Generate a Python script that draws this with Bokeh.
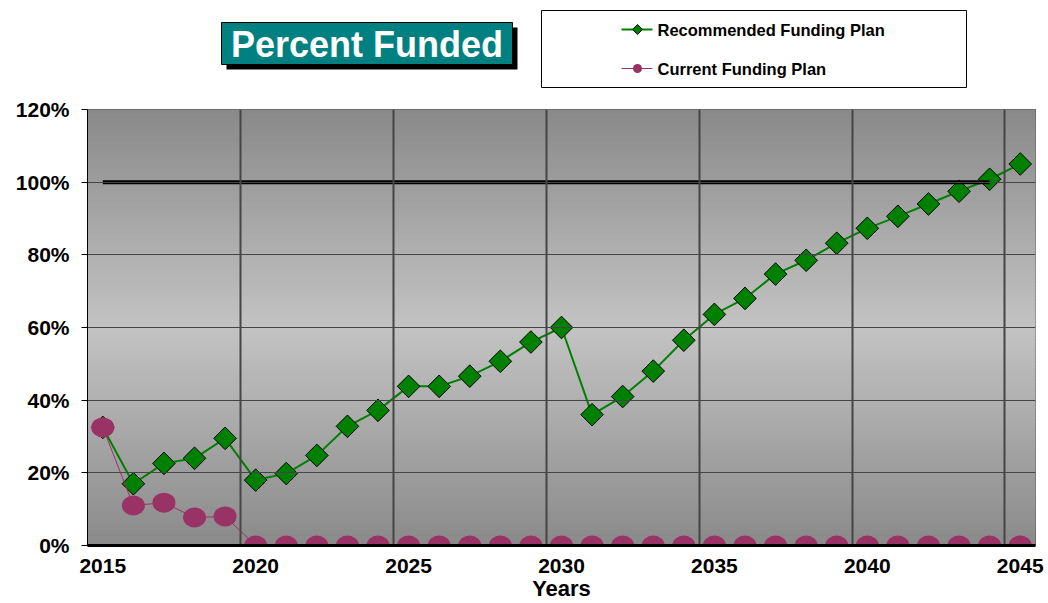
import numpy as np
from bokeh.plotting import figure
from bokeh.layouts import column
from bokeh.models import Range1d, FixedTicker, Grid, PrintfTickFormatter
from bokeh.core.properties import value
from bokeh.embed import file_html
from bokeh.resources import INLINE

# ---- data ----
years = list(range(2015, 2046))
recommended = [32.5, 17.0, 22.6, 24.0, 29.5, 18.0, 19.8, 24.8, 32.8, 37.2,
               43.8, 43.8, 46.6, 50.7, 56.0, 60.0, 36.0, 41.0, 48.0, 56.5,
               63.6, 68.0, 74.7, 78.5, 83.2, 87.3, 90.6, 94.0, 97.5, 100.8, 105.0]
current = [32.5, 11.0, 11.8, 7.7, 8.0, 0, 0, 0, 0, 0,
           0, 0, 0, 0, 0, 0, 0, 0, 0, 0,
           0, 0, 0, 0, 0, 0, 0, 0, 0, 0, 0]
target_years = list(range(2015, 2045))
target = [100, 100, 100, 100, 100, 100, 100, 100, 100, 100,
          100, 100, 100, 100, 100, 100, 100, 100, 100, 100,
          100, 100, 100, 100, 100, 100, 100, 100, 100, 100]
x_ticks = [2015, 2020, 2025, 2030, 2035, 2040, 2045]
y_ticks = [0, 20, 40, 60, 80, 100, 120]
title_text = "Percent Funded"
legend_labels = ["Recommended Funding Plan", "Current Funding Plan"]
x_label = "Years"

GREEN = "#008000"
MAGENTA = "#993366"
FONT = "Liberation Sans"

# ---- header (title box + legend); frame is aligned with the chart frame (87..1035 px) ----
h = figure(width=1048, height=95, x_range=Range1d(87, 1035), y_range=Range1d(95, 0),
           output_backend="svg", toolbar_location=None, min_border=0)
h.axis.visible = False
h.grid.visible = False
h.outline_line_color = None
h.background_fill_color = "white"
h.border_fill_color = "white"

h.quad(left=[226], right=[517], top=[27], bottom=[69], fill_color="black", line_color=None)
h.quad(left=[221], right=[512], top=[22], bottom=[64], fill_color="#008080",
       line_color="black", line_width=1)
h.text(x=[366.5], y=[44], text=[title_text], text_color="white",
       text_font=value(FONT), text_font_style="bold", text_font_size="36px",
       text_align="center", text_baseline="middle")

h.quad(left=[541], right=[966], top=[10], bottom=[87], fill_color="white",
       line_color="black", line_width=1)
leg_y = [29, 68]
h.segment(x0=[621], x1=[652], y0=[leg_y[0]], y1=[leg_y[0]], line_color=GREEN, line_width=2)
h.scatter(x=[637], y=[leg_y[0]], marker="square", angle=np.pi / 4, size=7,
          fill_color=GREEN, line_color="black", line_width=1)
h.segment(x0=[621], x1=[652], y0=[leg_y[1]], y1=[leg_y[1]], line_color=MAGENTA, line_width=1)
h.scatter(x=[637], y=[leg_y[1]], marker="circle", size=9, fill_color=MAGENTA, line_color=None)
h.text(x=[657, 657], y=leg_y, text=legend_labels, text_color="black",
       text_font=value(FONT), text_font_style="bold", text_font_size="16.5px",
       text_align="left", text_baseline="middle")

# ---- main chart ----
p = figure(width=1048, height=508, x_range=Range1d(2014.5, 2045.5), y_range=Range1d(0, 120),
           output_backend="svg", toolbar_location=None,
           min_border_left=87, min_border_right=13, min_border_top=14, min_border_bottom=57)
p.background_fill_color = "#8a8a8a"
p.border_fill_color = "white"
p.outline_line_color = "#404040"
p.outline_line_width = 1
p.grid.visible = False

# gradient background (dark - light - dark)
levels = np.linspace(0, 120, 121)
mids = (levels[:-1] + levels[1:]) / 2
dark, light = 138, 196
vals = dark + (light - dark) * (1 - np.abs(mids - 60) / 60)
cols = ["#%02x%02x%02x" % (int(v), int(v), int(v)) for v in vals]
p.quad(left=2014.5, right=2045.5, bottom=levels[:-1], top=levels[1:],
       fill_color=cols, line_color=cols, line_width=1)

# grid lines
vgrid = Grid(dimension=0, ticker=FixedTicker(ticks=[y + 4.5 for y in x_ticks[:-1]]),
             grid_line_color="#454545", grid_line_width=2)
hgrid = Grid(dimension=1, ticker=FixedTicker(ticks=y_ticks),
             grid_line_color="#454545", grid_line_width=1)
p.add_layout(vgrid)
p.add_layout(hgrid)
vgrid.level = "glyph"
hgrid.level = "glyph"

# series
p.line(years, recommended, line_color=GREEN, line_width=2)
p.scatter(years, recommended, marker="square", angle=np.pi / 4, size=16,
          fill_color=GREEN, line_color="black", line_width=1)
p.line(target_years, target, line_color="black", line_width=4)
p.line(years, current, line_color=MAGENTA, line_width=1)
p.ellipse(years, current, width=23, height=20, width_units="screen", height_units="screen",
          fill_color=MAGENTA, line_color=None)

# axes
p.xaxis.ticker = FixedTicker(ticks=x_ticks)
p.xaxis.axis_label = x_label
p.xaxis.axis_line_color = "black"
p.xaxis.axis_line_width = 3
p.xaxis.major_tick_line_color = None
p.xaxis.minor_tick_line_color = None
p.xaxis.major_label_standoff = 7
p.xaxis.axis_label_standoff = 0
p.xaxis.major_label_text_font = FONT
p.xaxis.major_label_text_font_style = "bold"
p.xaxis.major_label_text_font_size = "21px"
p.xaxis.axis_label_text_font = FONT
p.xaxis.axis_label_text_font_style = "bold"
p.xaxis.axis_label_text_font_size = "22px"
p.xaxis.axis_label_text_color = "black"
p.xaxis.major_label_text_color = "black"

p.yaxis.ticker = FixedTicker(ticks=y_ticks)
p.yaxis.formatter = PrintfTickFormatter(format="%d%%")
p.yaxis.axis_line_color = "black"
p.yaxis.axis_line_width = 1
p.yaxis.major_tick_out = 6
p.yaxis.major_tick_in = 0
p.yaxis.minor_tick_line_color = None
p.yaxis.major_label_standoff = 12
p.yaxis.major_label_text_font = FONT
p.yaxis.major_label_text_font_style = "bold"
p.yaxis.major_label_text_font_size = "21px"
p.yaxis.major_label_text_color = "black"

layout = column(h, p, spacing=0)
open("out.html", "w").write(file_html(layout, INLINE))
